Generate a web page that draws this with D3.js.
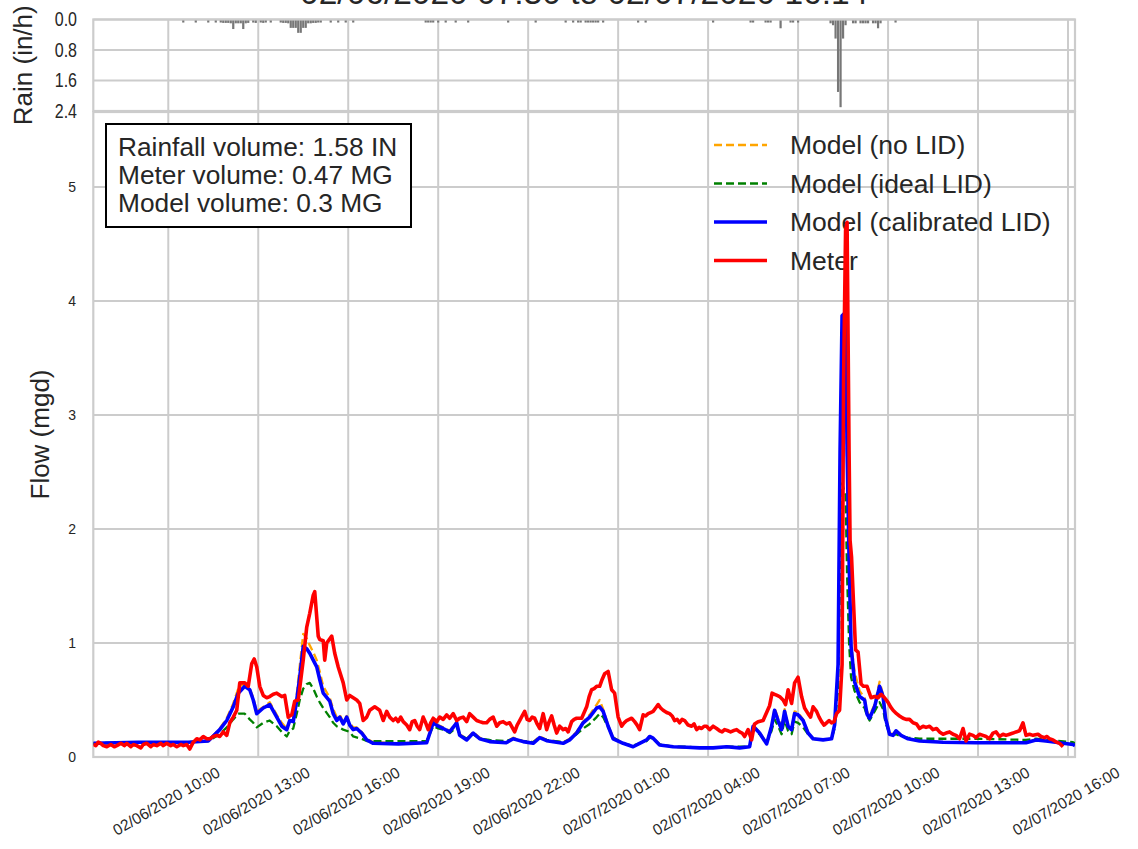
<!DOCTYPE html>
<html><head><meta charset="utf-8">
<script src="https://cdn.jsdelivr.net/npm/d3@7"></script>
<style>
body{margin:0;background:#fff}
text{font-family:"Liberation Sans",Arial,sans-serif;fill:#262626}
</style>
</head><body>
<svg id="c" width="1138" height="849"></svg>
<script>
const titleText = "02/06/2020 07:30 to 02/07/2020 16:14";
const startTime = "06 07:30", endTime = "07 16:14";
const xTickTimes = ["06 10:00","06 13:00","06 16:00","06 19:00","06 22:00","07 01:00","07 04:00","07 07:00","07 10:00","07 13:00","07 16:00"];
const xTickLabels = ["02/06/2020 10:00","02/06/2020 13:00","02/06/2020 16:00","02/06/2020 19:00","02/06/2020 22:00","02/07/2020 01:00","02/07/2020 04:00","02/07/2020 07:00","02/07/2020 10:00","02/07/2020 13:00","02/07/2020 16:00"];
const flowTicks = [0,1,2,3,4,5];
const rainTicks = [0.0,0.8,1.6,2.4];
const seriesNames = ["Model (no LID)","Model (ideal LID)","Model (calibrated LID)","Meter"];
const statLines = ["Rainfall volume: 1.58 IN","Meter volume: 0.47 MG","Model volume: 0.3 MG"];

const calibT = ["06 07:30","06 09:00","06 10:40","06 11:20","06 11:43","06 11:57","06 12:10","06 12:20","06 12:33","06 12:43","06 12:50","06 12:57","06 13:10","06 13:23","06 13:37","06 13:47","06 13:57","06 14:03","06 14:10","06 14:17","06 14:23","06 14:30","06 14:37","06 14:43","06 14:50","06 14:57","06 15:03","06 15:10","06 15:23","06 15:30","06 15:37","06 15:43","06 15:50","06 15:57","06 16:03","06 16:10","06 16:17","06 16:27","06 16:37","06 16:50","06 17:40","06 18:37","06 18:50","06 19:00","06 19:10","06 19:23","06 19:37","06 19:43","06 19:57","06 20:10","06 20:23","06 20:43","06 21:16","06 21:30","06 21:50","06 22:10","06 22:23","06 22:37","06 23:10","06 23:23","06 23:37","06 23:50","07 00:03","07 00:17","07 00:23","07 00:30","07 00:40","07 00:50","07 01:10","07 01:30","07 01:43","07 01:57","07 02:03","07 02:10","07 02:23","07 02:50","07 03:17","07 03:43","07 04:10","07 04:37","07 05:03","07 05:23","07 05:30","07 05:43","07 05:57","07 06:07","07 06:13","07 06:20","07 06:27","07 06:33","07 06:40","07 06:47","07 06:53","07 07:00","07 07:10","07 07:20","07 07:30","07 07:50","07 08:07","07 08:13","07 08:20","07 08:24","07 08:28","07 08:35","07 08:38","07 08:42","07 08:46","07 08:53","07 09:03","07 09:13","07 09:18","07 09:23","07 09:33","07 09:43","07 09:50","07 09:55","07 10:03","07 10:10","07 10:16","07 10:26","07 10:40","07 11:03","07 11:50","07 12:56","07 14:36","07 14:56","07 15:16","07 16:10","07 16:14"];
const calibV = [0.12,0.13,0.13,0.14,0.24,0.32,0.44,0.56,0.62,0.59,0.5,0.38,0.43,0.46,0.35,0.27,0.24,0.32,0.31,0.5,0.7,0.97,0.95,0.91,0.85,0.79,0.68,0.56,0.49,0.38,0.32,0.35,0.29,0.35,0.28,0.24,0.25,0.21,0.15,0.12,0.115,0.125,0.3,0.27,0.25,0.22,0.3,0.19,0.15,0.21,0.16,0.135,0.125,0.16,0.135,0.12,0.17,0.143,0.12,0.15,0.21,0.3,0.35,0.43,0.44,0.4,0.27,0.16,0.12,0.09,0.12,0.15,0.18,0.165,0.105,0.09,0.085,0.08,0.08,0.09,0.08,0.09,0.27,0.21,0.115,0.27,0.41,0.32,0.24,0.4,0.27,0.24,0.38,0.37,0.32,0.21,0.16,0.15,0.16,0.28,0.81,2.69,3.87,3.9,2.7,1.75,0.97,0.66,0.53,0.5,0.375,0.34,0.44,0.62,0.53,0.34,0.2,0.19,0.23,0.19,0.16,0.14,0.13,0.125,0.125,0.15,0.14,0.11,0.1];

const noLidT = ["06 07:30","06 09:00","06 10:40","06 11:20","06 11:43","06 11:57","06 12:10","06 12:20","06 12:30","06 12:43","06 12:50","06 12:57","06 13:10","06 13:23","06 13:37","06 13:47","06 13:57","06 14:03","06 14:10","06 14:17","06 14:23","06 14:30","06 14:37","06 14:43","06 14:50","06 14:57","06 15:03","06 15:10","06 15:23","06 15:30","06 15:37","06 15:43","06 15:50","06 15:57","06 16:03","06 16:10","06 16:17","06 16:27","06 16:37","06 16:50","06 17:40","06 18:37","06 18:50","06 19:00","06 19:10","06 19:23","06 19:37","06 19:43","06 19:57","06 20:10","06 20:23","06 20:43","06 21:16","06 21:30","06 21:50","06 22:10","06 22:23","06 22:37","06 23:10","06 23:23","06 23:37","06 23:50","07 00:03","07 00:17","07 00:23","07 00:30","07 00:40","07 00:50","07 01:10","07 01:30","07 01:43","07 01:57","07 02:03","07 02:10","07 02:23","07 02:50","07 03:17","07 03:43","07 04:10","07 04:37","07 05:03","07 05:23","07 05:30","07 05:43","07 05:57","07 06:07","07 06:13","07 06:20","07 06:27","07 06:33","07 06:40","07 06:47","07 06:53","07 07:00","07 07:10","07 07:20","07 07:30","07 07:50","07 08:07","07 08:13","07 08:20","07 08:24","07 08:28","07 08:35","07 08:38","07 08:42","07 08:46","07 08:53","07 09:03","07 09:13","07 09:18","07 09:23","07 09:33","07 09:43","07 09:50","07 09:55","07 10:03","07 10:10","07 10:16","07 10:26","07 10:40","07 11:03","07 11:50","07 12:56","07 14:36","07 14:56","07 15:16","07 16:10","07 16:14"];
const noLidV = [0.12,0.13,0.13,0.14,0.25,0.34,0.47,0.6,0.64,0.6,0.52,0.4,0.44,0.48,0.37,0.3,0.25,0.33,0.33,0.55,0.8,1.08,1.04,0.98,0.92,0.85,0.75,0.62,0.52,0.42,0.35,0.37,0.31,0.36,0.3,0.26,0.26,0.22,0.16,0.13,0.12,0.13,0.31,0.28,0.26,0.23,0.31,0.2,0.16,0.22,0.17,0.14,0.13,0.17,0.14,0.13,0.18,0.15,0.13,0.16,0.22,0.31,0.37,0.46,0.5,0.42,0.28,0.17,0.12,0.09,0.12,0.15,0.18,0.17,0.11,0.09,0.08,0.08,0.08,0.09,0.08,0.09,0.28,0.22,0.12,0.28,0.43,0.34,0.25,0.42,0.28,0.25,0.4,0.39,0.33,0.22,0.16,0.15,0.16,0.28,0.8,2.6,3.7,3.6,2.6,1.7,1.0,0.75,0.58,0.52,0.4,0.36,0.46,0.66,0.55,0.36,0.21,0.2,0.23,0.19,0.16,0.14,0.13,0.13,0.13,0.15,0.14,0.11,0.1];

const idealT = ["06 07:30","06 09:00","06 10:40","06 11:20","06 11:43","06 11:57","06 12:10","06 12:20","06 12:33","06 12:43","06 12:50","06 12:57","06 13:10","06 13:23","06 13:37","06 13:47","06 13:57","06 14:03","06 14:10","06 14:17","06 14:23","06 14:30","06 14:37","06 14:43","06 14:50","06 14:57","06 15:03","06 15:10","06 15:23","06 15:30","06 15:37","06 15:50","06 16:03","06 16:10","06 16:27","06 16:37","06 16:50","06 17:40","06 18:37","06 18:50","06 19:00","06 19:10","06 19:23","06 19:37","06 19:43","06 19:57","06 20:10","06 20:23","06 20:43","06 21:16","06 21:30","06 21:50","06 22:10","06 22:23","06 22:37","06 23:10","06 23:23","06 23:37","06 23:50","07 00:03","07 00:17","07 00:23","07 00:30","07 00:40","07 00:50","07 01:10","07 01:30","07 01:43","07 01:57","07 02:03","07 02:10","07 02:23","07 02:50","07 03:17","07 03:43","07 04:10","07 04:37","07 05:03","07 05:23","07 05:30","07 05:43","07 05:57","07 06:07","07 06:13","07 06:20","07 06:27","07 06:33","07 06:40","07 06:47","07 06:53","07 07:00","07 07:10","07 07:20","07 07:30","07 07:50","07 08:07","07 08:13","07 08:20","07 08:24","07 08:28","07 08:35","07 08:38","07 08:42","07 08:46","07 08:53","07 09:03","07 09:13","07 09:18","07 09:23","07 09:33","07 09:43","07 09:50","07 09:55","07 10:03","07 10:10","07 10:16","07 10:26","07 10:40","07 11:03","07 11:50","07 12:56","07 14:36","07 14:56","07 15:16","07 16:10","07 16:14"];
const idealV = [0.12,0.13,0.13,0.14,0.2,0.26,0.33,0.38,0.38,0.33,0.3,0.26,0.3,0.32,0.27,0.22,0.18,0.23,0.25,0.38,0.5,0.6,0.64,0.65,0.6,0.53,0.48,0.43,0.35,0.3,0.27,0.24,0.22,0.18,0.16,0.14,0.14,0.14,0.14,0.27,0.25,0.24,0.21,0.26,0.2,0.16,0.2,0.16,0.15,0.14,0.16,0.14,0.13,0.17,0.15,0.13,0.15,0.2,0.25,0.29,0.35,0.38,0.35,0.26,0.17,0.12,0.1,0.12,0.14,0.17,0.16,0.11,0.09,0.09,0.08,0.08,0.09,0.09,0.09,0.24,0.2,0.12,0.23,0.33,0.27,0.2,0.32,0.23,0.2,0.31,0.3,0.26,0.2,0.16,0.15,0.16,0.25,0.6,1.6,2.4,2.3,1.6,1.0,0.7,0.58,0.48,0.43,0.36,0.32,0.4,0.48,0.42,0.3,0.2,0.19,0.2,0.18,0.17,0.16,0.16,0.16,0.15,0.16,0.15,0.13,0.12];

const meterT = ["06 07:30","06 07:35","06 07:40","06 07:45","06 07:50","06 07:57","06 08:05","06 08:12","06 08:17","06 08:25","06 08:32","06 08:37","06 08:45","06 08:50","06 08:57","06 09:05","06 09:10","06 09:17","06 09:25","06 09:30","06 09:37","06 09:45","06 09:50","06 09:57","06 10:05","06 10:10","06 10:17","06 10:25","06 10:30","06 10:37","06 10:43","06 10:50","06 10:57","06 11:03","06 11:10","06 11:17","06 11:23","06 11:30","06 11:37","06 11:43","06 11:50","06 11:57","06 12:03","06 12:10","06 12:17","06 12:23","06 12:33","06 12:40","06 12:47","06 12:52","06 12:57","06 13:03","06 13:10","06 13:17","06 13:23","06 13:30","06 13:37","06 13:47","06 13:53","06 14:00","06 14:07","06 14:13","06 14:20","06 14:30","06 14:37","06 14:43","06 14:50","06 14:53","06 15:00","06 15:03","06 15:10","06 15:13","06 15:17","06 15:27","06 15:33","06 15:40","06 15:50","06 15:57","06 16:03","06 16:10","06 16:17","06 16:23","06 16:30","06 16:37","06 16:43","06 16:53","06 17:03","06 17:10","06 17:17","06 17:23","06 17:30","06 17:35","06 17:40","06 17:45","06 17:50","06 17:57","06 18:03","06 18:08","06 18:13","06 18:18","06 18:23","06 18:30","06 18:35","06 18:40","06 18:45","06 18:50","06 18:57","06 19:03","06 19:10","06 19:17","06 19:23","06 19:30","06 19:37","06 19:43","06 19:50","06 19:57","06 20:03","06 20:10","06 20:17","06 20:23","06 20:30","06 20:37","06 20:43","06 20:50","06 20:57","06 21:03","06 21:10","06 21:17","06 21:23","06 21:28","06 21:33","06 21:38","06 21:43","06 21:48","06 21:53","06 21:58","06 22:03","06 22:08","06 22:13","06 22:18","06 22:23","06 22:30","06 22:37","06 22:42","06 22:47","06 22:52","06 22:57","06 23:03","06 23:10","06 23:15","06 23:20","06 23:27","06 23:32","06 23:37","06 23:47","06 23:57","07 00:02","07 00:07","07 00:12","07 00:17","07 00:23","07 00:28","07 00:33","07 00:40","07 00:47","07 00:53","07 01:00","07 01:07","07 01:12","07 01:17","07 01:22","07 01:27","07 01:33","07 01:38","07 01:43","07 01:50","07 01:55","07 02:00","07 02:05","07 02:10","07 02:15","07 02:20","07 02:25","07 02:30","07 02:37","07 02:43","07 02:48","07 02:53","07 02:58","07 03:03","07 03:08","07 03:13","07 03:20","07 03:27","07 03:32","07 03:37","07 03:42","07 03:47","07 03:52","07 03:57","07 04:03","07 04:10","07 04:17","07 04:23","07 04:28","07 04:33","07 04:40","07 04:45","07 04:50","07 04:57","07 05:03","07 05:08","07 05:13","07 05:20","07 05:27","07 05:33","07 05:40","07 05:50","07 06:03","07 06:08","07 06:13","07 06:18","07 06:23","07 06:30","07 06:35","07 06:40","07 06:47","07 06:53","07 07:00","07 07:07","07 07:13","07 07:20","07 07:25","07 07:30","07 07:37","07 07:42","07 07:47","07 07:52","07 07:57","07 08:02","07 08:07","07 08:12","07 08:17","07 08:23","07 08:28","07 08:31","07 08:35","07 08:38","07 08:42","07 08:44","07 08:47","07 08:50","07 08:55","07 09:00","07 09:06","07 09:11","07 09:18","07 09:26","07 09:33","07 09:40","07 09:46","07 09:53","07 10:00","07 10:05","07 10:10","07 10:17","07 10:23","07 10:30","07 10:36","07 10:43","07 10:50","07 10:57","07 11:03","07 11:10","07 11:16","07 11:23","07 11:30","07 11:37","07 11:43","07 11:50","07 11:56","07 12:03","07 12:10","07 12:16","07 12:23","07 12:30","07 12:36","07 12:43","07 12:50","07 12:56","07 13:03","07 13:10","07 13:16","07 13:23","07 13:30","07 13:36","07 13:43","07 13:50","07 13:56","07 14:03","07 14:10","07 14:16","07 14:23","07 14:30","07 14:36","07 14:43","07 14:50","07 15:00","07 15:06","07 15:13","07 15:18","07 15:23","07 15:30","07 15:37","07 15:43","07 15:50","07 15:56","07 16:02","07 16:06","07 16:10","07 16:14"];
const meterV = [0.11,0.1,0.13,0.12,0.1,0.09,0.11,0.09,0.1,0.12,0.1,0.12,0.09,0.11,0.1,0.08,0.11,0.12,0.09,0.11,0.1,0.12,0.1,0.12,0.1,0.11,0.09,0.11,0.1,0.11,0.07,0.13,0.16,0.15,0.18,0.16,0.16,0.18,0.19,0.18,0.22,0.19,0.3,0.35,0.41,0.65,0.65,0.62,0.82,0.86,0.79,0.62,0.54,0.52,0.53,0.55,0.56,0.53,0.54,0.35,0.37,0.49,0.5,0.85,1.14,1.26,1.42,1.45,1.06,1.03,1.02,0.85,1.0,1.06,0.91,0.79,0.65,0.5,0.54,0.52,0.5,0.47,0.32,0.35,0.41,0.44,0.41,0.32,0.4,0.35,0.32,0.34,0.31,0.35,0.31,0.28,0.24,0.31,0.32,0.27,0.24,0.35,0.3,0.24,0.3,0.34,0.31,0.35,0.33,0.37,0.34,0.38,0.32,0.34,0.35,0.31,0.38,0.35,0.32,0.31,0.3,0.3,0.33,0.35,0.27,0.3,0.31,0.29,0.3,0.26,0.22,0.28,0.32,0.36,0.4,0.33,0.32,0.35,0.34,0.29,0.25,0.38,0.24,0.31,0.36,0.28,0.21,0.27,0.24,0.25,0.22,0.31,0.33,0.34,0.34,0.44,0.53,0.59,0.6,0.62,0.62,0.68,0.73,0.75,0.59,0.56,0.35,0.27,0.3,0.32,0.33,0.34,0.31,0.28,0.24,0.37,0.36,0.38,0.39,0.4,0.43,0.46,0.43,0.41,0.39,0.38,0.36,0.32,0.33,0.3,0.33,0.32,0.28,0.27,0.29,0.24,0.26,0.25,0.27,0.27,0.24,0.27,0.25,0.23,0.22,0.24,0.23,0.22,0.23,0.24,0.22,0.21,0.18,0.24,0.15,0.29,0.31,0.32,0.45,0.56,0.55,0.54,0.53,0.5,0.46,0.59,0.47,0.65,0.7,0.53,0.43,0.38,0.35,0.44,0.4,0.35,0.31,0.28,0.3,0.32,0.3,0.31,0.38,0.41,0.81,3.3,4.62,4.69,2.69,1.9,1.75,1.44,0.94,0.92,0.64,0.62,0.62,0.52,0.53,0.52,0.55,0.52,0.48,0.44,0.41,0.38,0.36,0.34,0.33,0.33,0.3,0.29,0.25,0.27,0.26,0.27,0.24,0.25,0.22,0.2,0.21,0.22,0.2,0.19,0.16,0.25,0.14,0.2,0.19,0.17,0.2,0.19,0.18,0.16,0.21,0.22,0.18,0.2,0.19,0.2,0.21,0.22,0.23,0.3,0.19,0.2,0.19,0.2,0.18,0.17,0.18,0.16,0.15,0.13,0.12,0.09];

const rainT = ["06 10:30","06 10:55","06 11:20","06 11:35","06 11:45","06 11:50","06 11:55","06 12:00","06 12:05","06 12:10","06 12:15","06 12:20","06 12:25","06 12:30","06 12:35","06 12:40","06 12:50","06 12:55","06 13:05","06 13:10","06 13:15","06 13:25","06 13:45","06 13:50","06 13:55","06 14:00","06 14:05","06 14:10","06 14:15","06 14:20","06 14:25","06 14:30","06 14:35","06 14:40","06 14:45","06 14:50","06 14:55","06 15:00","06 15:05","06 15:25","06 15:40","06 15:55","06 16:10","06 18:35","06 18:40","06 18:45","06 18:50","06 19:00","06 19:15","06 19:35","06 20:00","06 21:20","06 22:15","06 23:15","06 23:30","06 23:40","06 23:45","06 23:55","07 00:00","07 00:05","07 00:10","07 00:15","07 00:20","07 00:30","07 01:40","07 01:55","07 04:10","07 05:25","07 05:30","07 05:55","07 06:00","07 06:05","07 06:25","07 06:45","07 06:50","07 07:00","07 08:05","07 08:10","07 08:15","07 08:20","07 08:25","07 08:30","07 08:35","07 08:50","07 08:55","07 09:05","07 09:10","07 09:15","07 09:20","07 09:30","07 09:35","07 09:40","07 09:45","07 10:15"];
const rainV = [0.08,0.08,0.08,0.08,0.08,0.09,0.09,0.09,0.1,0.25,0.1,0.1,0.1,0.25,0.1,0.09,0.08,0.09,0.08,0.09,0.08,0.08,0.08,0.09,0.09,0.1,0.22,0.22,0.22,0.35,0.35,0.22,0.22,0.1,0.1,0.09,0.09,0.08,0.08,0.08,0.08,0.08,0.08,0.08,0.08,0.08,0.08,0.08,0.08,0.08,0.08,0.08,0.08,0.08,0.08,0.08,0.08,0.08,0.08,0.08,0.08,0.08,0.08,0.08,0.08,0.08,0.08,0.08,0.08,0.08,0.08,0.08,0.23,0.08,0.08,0.08,0.1,0.15,0.5,1.9,2.3,0.5,0.15,0.1,0.1,0.1,0.1,0.1,0.1,0.1,0.1,0.23,0.1,0.08];

const parseT = s => new Date(2020, 1, +s.slice(0,2), +s.slice(3,5), +s.slice(6,8));
const zipS = (T, V) => T.map((t,i) => ({t: parseT(t), v: V[i]}));

const svg = d3.select("#c");
const L = 93.3, R = 1075, rainTop = 19.5, rainBot = 111, flowTop = 112, flowBot = 757;
const GRID = "#cccccc";

const x = d3.scaleTime().domain([parseT(startTime), parseT(endTime)]).range([L, R]);
const yF = d3.scaleLinear().domain([0, 5.658]).range([flowBot, flowTop]);
const yR = d3.scaleLinear().domain([0, 2.4]).range([rainTop, rainBot]);
const xTicks = xTickTimes.map(parseT);

// ---- rain panel ----
const gR = svg.append("g");
gR.selectAll("line.vg").data(xTicks).enter().append("line")
  .attr("x1", d => x(d)).attr("x2", d => x(d)).attr("y1", rainTop).attr("y2", rainBot)
  .attr("stroke", GRID).attr("stroke-width", 2);
gR.selectAll("line.hg").data(rainTicks).enter().append("line")
  .attr("x1", L).attr("x2", R).attr("y1", d => yR(d)).attr("y2", d => yR(d))
  .attr("stroke", GRID).attr("stroke-width", 2);
const rain = zipS(rainT, rainV);
gR.selectAll("rect.rb").data(rain).enter().append("rect")
  .attr("x", d => x(d.t) - 1.1).attr("width", 2.2)
  .attr("y", rainTop).attr("height", d => yR(d.v) - rainTop)
  .attr("fill", "#777777");
gR.append("rect").attr("x", L).attr("y", rainTop).attr("width", R - L).attr("height", rainBot - rainTop)
  .attr("fill", "none").attr("stroke", GRID).attr("stroke-width", 2.2);
gR.selectAll("text.rt").data(rainTicks).enter().append("text")
  .attr("transform", d => `translate(77,${yR(d)}) scale(0.8,1)`)
  .attr("text-anchor", "end").attr("dominant-baseline", "central")
  .attr("font-size", 20).text(d => d.toFixed(1));
svg.append("text").attr("transform", `translate(23,${(rainTop + rainBot) / 2}) rotate(-90)`)
  .attr("text-anchor", "middle").attr("dominant-baseline", "central").attr("font-size", 26).text("Rain (in/h)");
svg.append("text").attr("x", (L + R) / 2).attr("y", 4).attr("text-anchor", "middle")
  .attr("font-size", 33.5).text(titleText);

// ---- flow panel ----
const gF = svg.append("g");
gF.selectAll("line.vg").data(xTicks).enter().append("line")
  .attr("x1", d => x(d)).attr("x2", d => x(d)).attr("y1", flowTop).attr("y2", flowBot)
  .attr("stroke", GRID).attr("stroke-width", 2);
gF.selectAll("line.hg").data(flowTicks).enter().append("line")
  .attr("x1", L).attr("x2", R).attr("y1", d => yF(d)).attr("y2", d => yF(d))
  .attr("stroke", GRID).attr("stroke-width", 2);
gF.append("rect").attr("x", L).attr("y", flowTop).attr("width", R - L).attr("height", flowBot - flowTop)
  .attr("fill", "none").attr("stroke", GRID).attr("stroke-width", 2.2);
gF.selectAll("text.ft").data(flowTicks).enter().append("text")
  .attr("x", 76).attr("y", d => yF(d)).attr("text-anchor", "end").attr("dominant-baseline", "central")
  .attr("font-size", 14).text(d => d);
gF.selectAll("text.xt").data(xTicks).enter().append("text")
  .attr("transform", d => `translate(${x(d) - 2},801) rotate(-30)`)
  .attr("text-anchor", "middle").attr("dominant-baseline", "central").attr("font-size", 15.5)
  .text((d, i) => xTickLabels[i]);
svg.append("text").attr("transform", `translate(40,${(flowTop + flowBot) / 2}) rotate(-90)`)
  .attr("text-anchor", "middle").attr("dominant-baseline", "central").attr("font-size", 26).text("Flow (mgd)");

// stats box
const box = svg.append("g");
box.append("rect").attr("x", 106).attr("y", 124).attr("width", 305).attr("height", 103)
  .attr("fill", "#fff").attr("stroke", "#000").attr("stroke-width", 2);
box.selectAll("text").data(statLines).enter().append("text")
  .attr("x", 118).attr("y", (d, i) => 147 + i * 28).attr("dominant-baseline", "central")
  .attr("font-size", 26.3).text(d => d);

// legend
const styles = [
  {c: "orange", w: 2.3, dash: "8,4"},
  {c: "green", w: 2.3, dash: "8,4"},
  {c: "blue", w: 3.6, dash: null},
  {c: "red", w: 3.6, dash: null}
];
const leg = svg.append("g");
seriesNames.forEach((n, i) => {
  const yy = 145 + i * 38.5;
  leg.append("line").attr("x1", 714).attr("x2", 767).attr("y1", yy).attr("y2", yy)
    .attr("stroke", styles[i].c).attr("stroke-width", styles[i].w).attr("stroke-dasharray", styles[i].dash);
  leg.append("text").attr("x", 790).attr("y", yy).attr("dominant-baseline", "central").attr("font-size", 26.5).text(n);
});

// lines
svg.append("clipPath").attr("id", "cp").append("rect").attr("x", L).attr("y", flowTop).attr("width", R - L).attr("height", flowBot - flowTop);
const line = d3.line().x(d => x(d.t)).y(d => yF(d.v));
const gL = svg.append("g").attr("clip-path", "url(#cp)");
const all = [zipS(noLidT, noLidV), zipS(idealT, idealV), zipS(calibT, calibV), zipS(meterT, meterV)];
all.forEach((s, i) => {
  gL.append("path").attr("d", line(s)).attr("fill", "none")
    .attr("stroke", styles[i].c).attr("stroke-width", styles[i].w)
    .attr("stroke-dasharray", styles[i].dash).attr("stroke-linejoin", "round");
});
</script>
</body></html>
